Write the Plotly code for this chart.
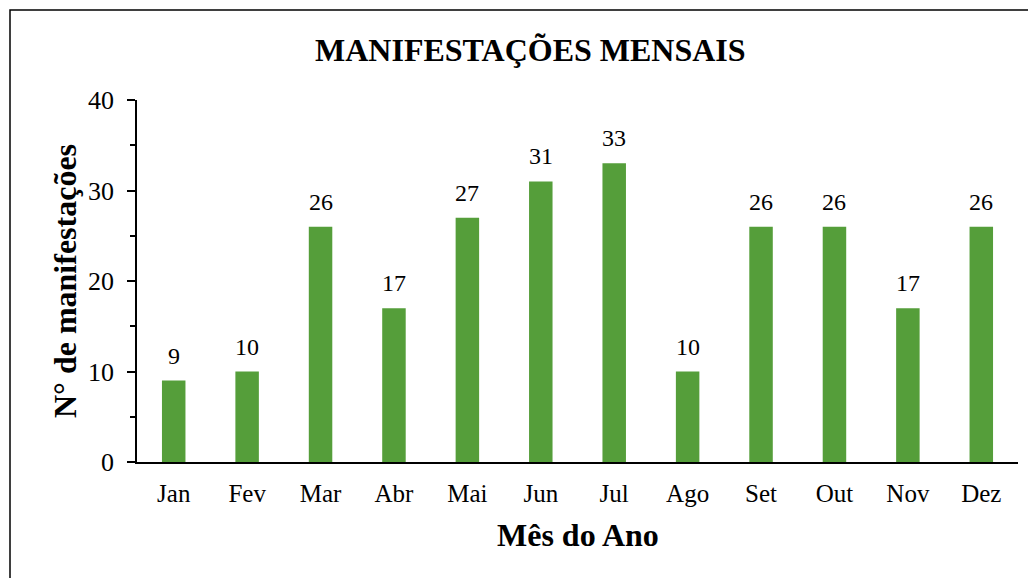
import plotly.graph_objects as go

months = ["Jan", "Fev", "Mar", "Abr", "Mai", "Jun", "Jul", "Ago", "Set", "Out", "Nov", "Dez"]
values = [9, 10, 26, 17, 27, 31, 33, 10, 26, 26, 17, 26]
y_ticks = [0, 10, 20, 30, 40]

# page body has an 8px margin; work in figure coordinates
W, H = 1028, 570
L, R, T, B = 129, 18, 92, 116
pw, ph = W - L - R, H - T - B

def px(x):
    return (x - L) / pw

def py(y):
    return (H - B - y) / ph

font = "Liberation Serif, Times New Roman, serif"
green = "#559E3A"

fig = go.Figure(go.Bar(
    x=months, y=values,
    marker=dict(color=green, line=dict(width=0)),
    cliponaxis=False,
    width=0.32,
))

label_annotations = [
    dict(text=str(v), x=m, y=v, xref="x", yref="y", showarrow=False,
         xanchor="center", yanchor="bottom", yshift=10,
         font=dict(family=font, size=24, color="#000"))
    for m, v in zip(months, values)
]

fig.update_layout(
    width=W, height=H,
    margin=dict(l=L, r=R, t=T, b=B),
    paper_bgcolor="white", plot_bgcolor="white",
    showlegend=False,
    font=dict(family=font, color="#000"),
    xaxis=dict(
        showline=True, linecolor="#000", linewidth=1.5,
        ticks="", tickfont=dict(family=font, size=25, color="#000"),
        ticklabelstandoff=8,
        showgrid=False, range=[-0.5, 11.5],
    ),
    yaxis=dict(
        range=[0, 40], tickvals=y_ticks, ticks="outside", ticklen=8, tickwidth=1.5,
        tickcolor="#000", showline=True, linecolor="#000", linewidth=1.5,
        showgrid=False, zeroline=False,
        ticklabelstandoff=8,
        tickfont=dict(family=font, size=26, color="#000"),
        minor=dict(dtick=5, ticks="outside", ticklen=5, tickwidth=1.5, tickcolor="#000", showgrid=False),
    ),
    shapes=[dict(type="rect", xref="paper", yref="paper",
                 x0=px(2), x1=px(1060), y0=py(600), y1=py(2),
                 line=dict(color="#000", width=1.5), fillcolor="rgba(0,0,0,0)", layer="below")],
    annotations=label_annotations + [
        dict(text="<b>MANIFESTAÇÕES MENSAIS</b>", xref="paper", yref="paper",
             x=px(522), y=py(42), showarrow=False, xanchor="center", yanchor="middle",
             font=dict(family=font, size=32, color="#000")),
        dict(text="<b>N° de manifestações</b>", xref="paper", yref="paper",
             x=px(57), y=py(273), showarrow=False, textangle=-90, xanchor="center", yanchor="middle",
             font=dict(family=font, size=32, color="#000")),
        dict(text="<b>Mês do Ano</b>", xref="paper", yref="paper",
             x=px(570), y=py(527), showarrow=False, xanchor="center", yanchor="middle",
             font=dict(family=font, size=32, color="#000")),
    ],
)

fig.write_html("out.html")
